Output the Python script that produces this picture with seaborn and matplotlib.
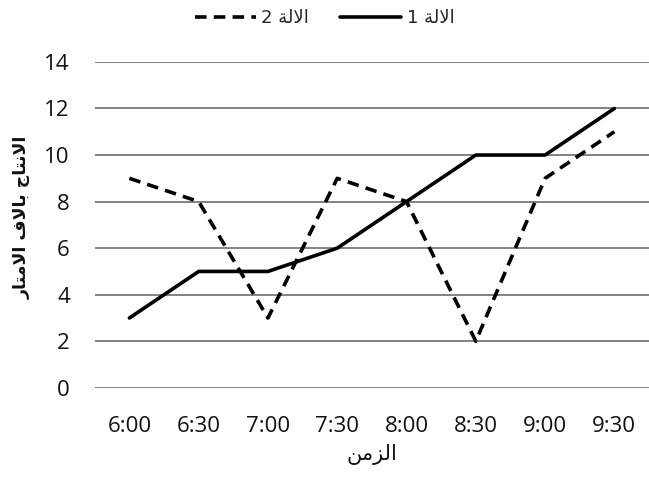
import matplotlib
matplotlib.use("Agg")
import matplotlib.pyplot as plt
import seaborn as sns
import pandas as pd
from matplotlib.lines import Line2D

# ---- data ----
times = ["6:00", "6:30", "7:00", "7:30", "8:00", "8:30", "9:00", "9:30"]
machine1 = [3, 5, 5, 6, 8, 10, 10, 12]
machine2 = [9, 8, 3, 9, 8, 2, 9, 11]
label1 = "الالة 1"
label2 = "الالة 2"
xlabel = "الزمن"
ylabel = "الانتاج بالاف الامتار"
yticks = [0, 2, 4, 6, 8, 10, 12, 14]

# ---- minimal Arabic shaping (matplotlib has no complex text layout) ----
FORMS = {  # isolated, final, initial, medial
    'ا': (0xFE8D, 0xFE8E, None, None),
    'ب': (0xFE8F, 0xFE90, 0xFE91, 0xFE92),
    'ة': (0xFE93, 0xFE94, None, None),
    'ت': (0xFE95, 0xFE96, 0xFE97, 0xFE98),
    'ج': (0xFE9D, 0xFE9E, 0xFE9F, 0xFEA0),
    'ر': (0xFEAD, 0xFEAE, None, None),
    'ز': (0xFEAF, 0xFEB0, None, None),
    'ف': (0xFED1, 0xFED2, 0xFED3, 0xFED4),
    'ل': (0xFEDD, 0xFEDE, 0xFEDF, 0xFEE0),
    'م': (0xFEE1, 0xFEE2, 0xFEE3, 0xFEE4),
    'ن': (0xFEE5, 0xFEE6, 0xFEE7, 0xFEE8),
}


def dual(c):
    return c in FORMS and FORMS[c][2] is not None


def shape(text):
    out = []
    chars = list(text)
    i = 0
    n = len(chars)
    while i < n:
        c = chars[i]
        if c not in FORMS:
            out.append(c)
            i += 1
            continue
        prev = chars[i - 1] if i > 0 else None
        join_prev = prev is not None and dual(prev)
        if c == 'ل' and i + 1 < n and chars[i + 1] == 'ا':
            out.append(chr(0xFEFC if join_prev else 0xFEFB))
            i += 2
            continue
        nxt = chars[i + 1] if i + 1 < n else None
        join_next = dual(c) and nxt is not None and nxt in FORMS
        iso, fin, ini, med = FORMS[c]
        if join_prev and join_next:
            f = med
        elif join_prev:
            f = fin
        elif join_next:
            f = ini
        else:
            f = iso
        out.append(chr(f))
        i += 1
    return "".join(out)[::-1]


# ---- plot ----
sns.set_theme(style="white")
plt.rcParams['font.family'] = ['DejaVu Sans']

df = pd.DataFrame({
    "time": times * 2,
    "value": machine1 + machine2,
    "machine": [label1] * len(times) + [label2] * len(times),
})

fig = plt.figure(figsize=(6.49, 4.8), dpi=100)
ax = fig.add_axes([0.146, 0.192, 0.854, 0.679])

for y in yticks:
    ax.axhline(y, color="#858088", lw=1.4, zorder=0)

sns.lineplot(data=df, x="time", y="value", style="machine",
             dashes={label1: "", label2: (3.2, 2.0)},
             color="black", linewidth=2.6, ax=ax, legend=False, sort=False)

ax.set_xlim(-0.5, 7.5)
ax.set_ylim(0, 14)
ax.set_yticks(yticks)
ax.set_xticks(range(len(times)))
ax.set_xticklabels(times)
for s in ax.spines.values():
    s.set_visible(False)
ax.tick_params(axis="both", length=0, labelsize=16, colors="#111111")
ax.tick_params(axis="y", pad=18)
ax.tick_params(axis="x", pad=20)
for t in ax.get_xticklabels() + ax.get_yticklabels():
    t.set_fontfamily("Open Sans")

ax.set_xlabel(shape(xlabel), fontsize=15, labelpad=5, color="#111111")
ax.set_ylabel("")
fig.text(0.034, 0.548, shape(ylabel), rotation=90, ha="center", va="center",
         fontsize=12.5, fontweight="bold", color="#111111")

handles = [
    Line2D([], [], color="black", lw=2.6, ls=(0, (3.2, 2.0))),
    Line2D([], [], color="black", lw=2.6),
]
fig.legend(handles, [shape(label2), shape(label1)], ncol=2,
           loc="center", bbox_to_anchor=(0.5, 0.962), frameon=False,
           fontsize=13, handlelength=3.4, handletextpad=0.3, columnspacing=1.7)

fig.savefig("out.png", dpi=100)
